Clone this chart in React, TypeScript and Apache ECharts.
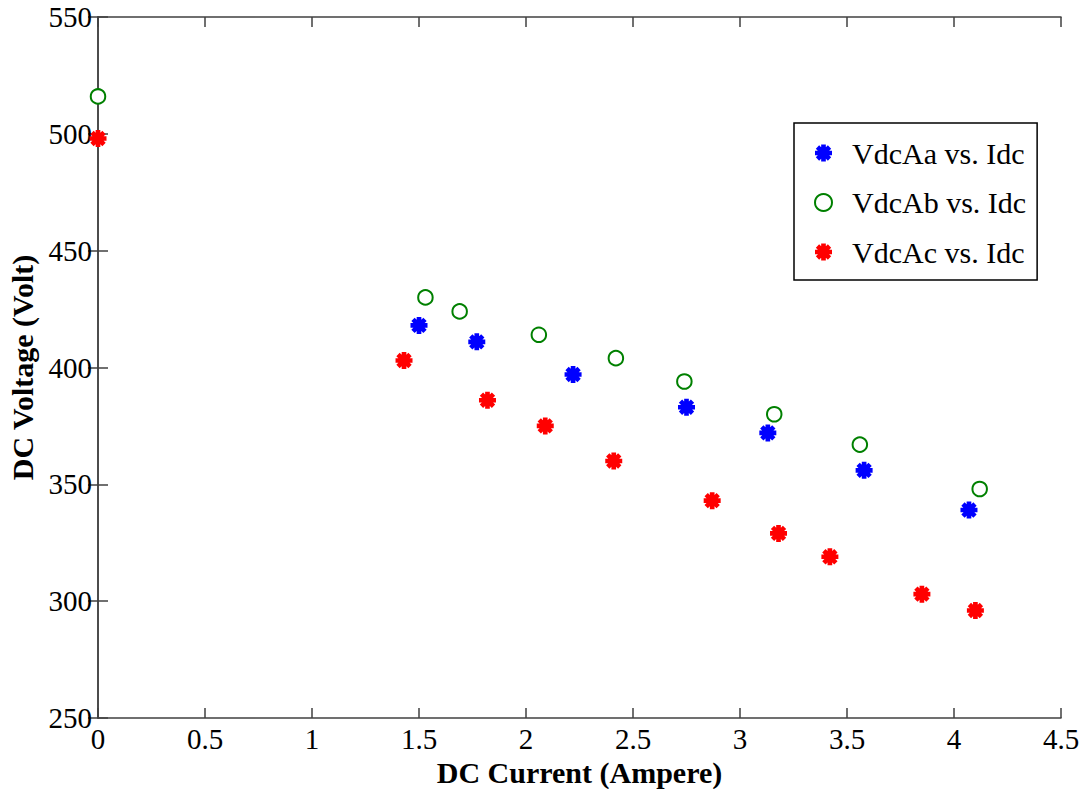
import React, { useEffect, useRef } from "react";
import * as echarts from "echarts";

const xTickInterval = 0.5;
const yTickInterval = 50;

const vdcAaIdc = [1.5, 1.77, 2.22, 2.75, 3.13, 3.58, 4.07];
const vdcAaV = [418, 411, 397, 383, 372, 356, 339];

const vdcAbIdc = [0, 1.53, 1.69, 2.06, 2.42, 2.74, 3.16, 3.56, 4.12];
const vdcAbV = [516, 430, 424, 414, 404, 394, 380, 367, 348];

const vdcAcIdc = [0, 1.43, 1.82, 2.09, 2.41, 2.87, 3.18, 3.42, 3.85, 4.1];
const vdcAcV = [498, 403, 386, 375, 360, 343, 329, 319, 303, 296];

const seriesNames = ["VdcAa vs. Idc", "VdcAb vs. Idc", "VdcAc vs. Idc"];

const ASTERISK =
  "path://M8,2.2 L-8,2.2 L-8,-2.2 L8,-2.2 Z " +
  "M-2.2,8 L-2.2,-8 L2.2,-8 L2.2,8 Z " +
  "M4.101,7.213 L-7.213,-4.101 L-4.101,-7.213 L7.213,4.101 Z " +
  "M-7.213,4.101 L4.101,-7.213 L7.213,-4.101 L-4.101,7.213 Z";

const zip = (xs: number[], ys: number[]) => xs.map((x, i) => [x, ys[i]]);

export default function App() {
  const ref = useRef<HTMLDivElement>(null);
  useEffect(() => {
    if (!ref.current) return;
    const chart = echarts.init(ref.current, undefined, { renderer: "svg" });
    const font = "Liberation Serif";
    const axisLine = { show: true, lineStyle: { color: "#404040", width: 1.5 } };
    const axisTick = { show: true, inside: true, length: 10, lineStyle: { color: "#404040", width: 1.5 } };
    const label = { fontFamily: font, fontSize: 29, color: "#000" };
    chart.setOption({
      animation: false,
      backgroundColor: "#fff",
      grid: { left: 98, right: 25, top: 17, bottom: 71, containLabel: false, outerBoundsMode: "none" },
      legend: {
        left: 794,
        top: 123,
        orient: "vertical",
        data: seriesNames,
        borderColor: "#000",
        borderWidth: 1.5,
        backgroundColor: "#fff",
        padding: [15, 11, 13, 20],
        itemGap: 19.5,
        itemWidth: 17,
        itemHeight: 17,
        textStyle: { fontFamily: font, fontSize: 30, color: "#000", padding: [0, 0, 0, 15] },
      },
      xAxis: [
        {
          type: "value",
          min: 0,
          max: 4.5,
          interval: xTickInterval,
          position: "bottom",
          axisLine,
          axisTick,
          splitLine: { show: false },
          axisLabel: { ...label, margin: 6 },
          name: "DC Current (Ampere)",
          nameLocation: "middle",
          nameGap: 27,
          nameTextStyle: { fontFamily: font, fontSize: 30, fontWeight: "bold", color: "#000" },
        },
        {
          type: "value",
          min: 0,
          max: 4.5,
          interval: xTickInterval,
          position: "top",
          axisLine,
          axisTick,
          splitLine: { show: false },
          axisLabel: { show: false },
        },
      ],
      yAxis: [
        {
          type: "value",
          min: 250,
          max: 550,
          interval: yTickInterval,
          position: "left",
          axisLine,
          axisTick,
          splitLine: { show: false },
          axisLabel: { ...label, margin: 6 },
          name: "DC Voltage (Volt)",
          nameLocation: "middle",
          nameRotate: 90,
          nameGap: 56,
          nameTextStyle: { fontFamily: font, fontSize: 30, fontWeight: "bold", color: "#000" },
        },
        {
          type: "value",
          min: 250,
          max: 550,
          interval: yTickInterval,
          position: "right",
          axisLine,
          axisTick,
          splitLine: { show: false },
          axisLabel: { show: false },
        },
      ],
      series: [
        {
          name: seriesNames[0],
          type: "scatter",
          xAxisIndex: 0,
          yAxisIndex: 0,
          data: zip(vdcAaIdc, vdcAaV),
          symbol: ASTERISK,
          symbolSize: 17,
          itemStyle: { color: "#0000ff", opacity: 1 },
        },
        {
          name: seriesNames[1],
          type: "scatter",
          xAxisIndex: 0,
          yAxisIndex: 0,
          data: zip(vdcAbIdc, vdcAbV),
          symbol: "emptyCircle",
          symbolSize: 14.5,
          itemStyle: { color: "#008000", borderColor: "#008000", borderWidth: 3, opacity: 1 },
        },
        {
          name: seriesNames[2],
          type: "scatter",
          xAxisIndex: 0,
          yAxisIndex: 0,
          data: zip(vdcAcIdc, vdcAcV),
          symbol: ASTERISK,
          symbolSize: 17,
          itemStyle: { color: "#ff0000", opacity: 1 },
        },
      ],
    });
    return () => chart.dispose();
  }, []);
  return (
    <div
      ref={ref}
      style={{ position: "fixed", left: 0, top: 0, width: 1086, height: 789, background: "#fff" }}
    />
  );
}
